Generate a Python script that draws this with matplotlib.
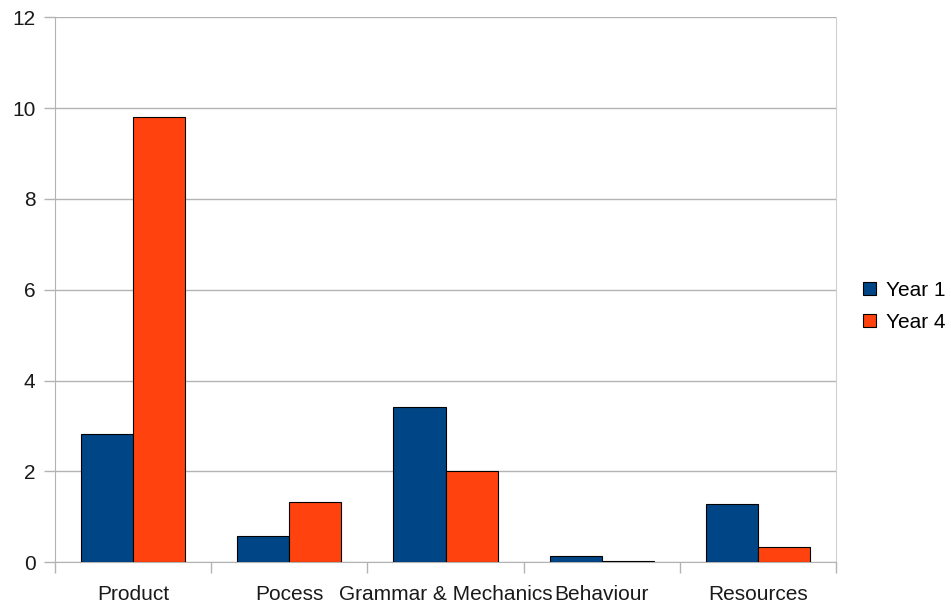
import numpy as np
import matplotlib.pyplot as plt
from matplotlib.ticker import FixedLocator

# values
categories = ["Product", "Pocess", "Grammar & Mechanics", "Behaviour", "Resources"]
year1 = [2.82, 0.59, 3.43, 0.13, 1.28]
year4 = [9.8, 1.33, 2.0, 0.02, 0.33]
yticks = [0, 2, 4, 6, 8, 10, 12]

plt.rcParams["font.family"] = ["Liberation Sans", "DejaVu Sans"]

fig = plt.figure(figsize=(9.51, 6.06), dpi=100)
ax = fig.add_axes([55 / 951, 1 - 562.3 / 606, 781 / 951, 545 / 606])

x = np.arange(len(categories))
w = 1 / 3
ax.bar(x - w / 2, year1, w, color="#004586", edgecolor="black", linewidth=0.8, label="Year 1", zorder=3)
ax.bar(x + w / 2, year4, w, color="#ff420e", edgecolor="black", linewidth=0.8, label="Year 4", zorder=3)

ax.set_xlim(-0.5, len(categories) - 0.5)
ax.set_ylim(0, 12)
ax.set_yticks(yticks)
ax.set_xticks(x)
ax.set_xticklabels(categories)
ax.xaxis.set_minor_locator(FixedLocator(np.arange(len(categories) + 1) - 0.5))

ax.grid(axis="y", color="#b3b3b3", linewidth=1, zorder=0)
ax.tick_params(axis="x", which="major", length=0, pad=16, labelsize=15, colors="#1a1a1a")
ax.tick_params(axis="x", which="minor", length=8, width=1, color="#b3b3b3", direction="out")
ax.tick_params(axis="y", length=8, width=1, color="#b3b3b3", pad=6, labelsize=15, labelcolor="#1a1a1a")

for side in ["left", "bottom"]:
    ax.spines[side].set_color("#b3b3b3")
ax.spines["right"].set_color("#d0d0d0")
ax.spines["top"].set_visible(False)

fig.legend(loc="upper left", bbox_to_anchor=(863 / 951, 1 - 281 / 606), frameon=False,
           fontsize=15, handlelength=0.63, handleheight=0.63, handletextpad=0.45,
           labelspacing=0.62, borderaxespad=0, borderpad=0)

fig.savefig("out.png", dpi=100)
